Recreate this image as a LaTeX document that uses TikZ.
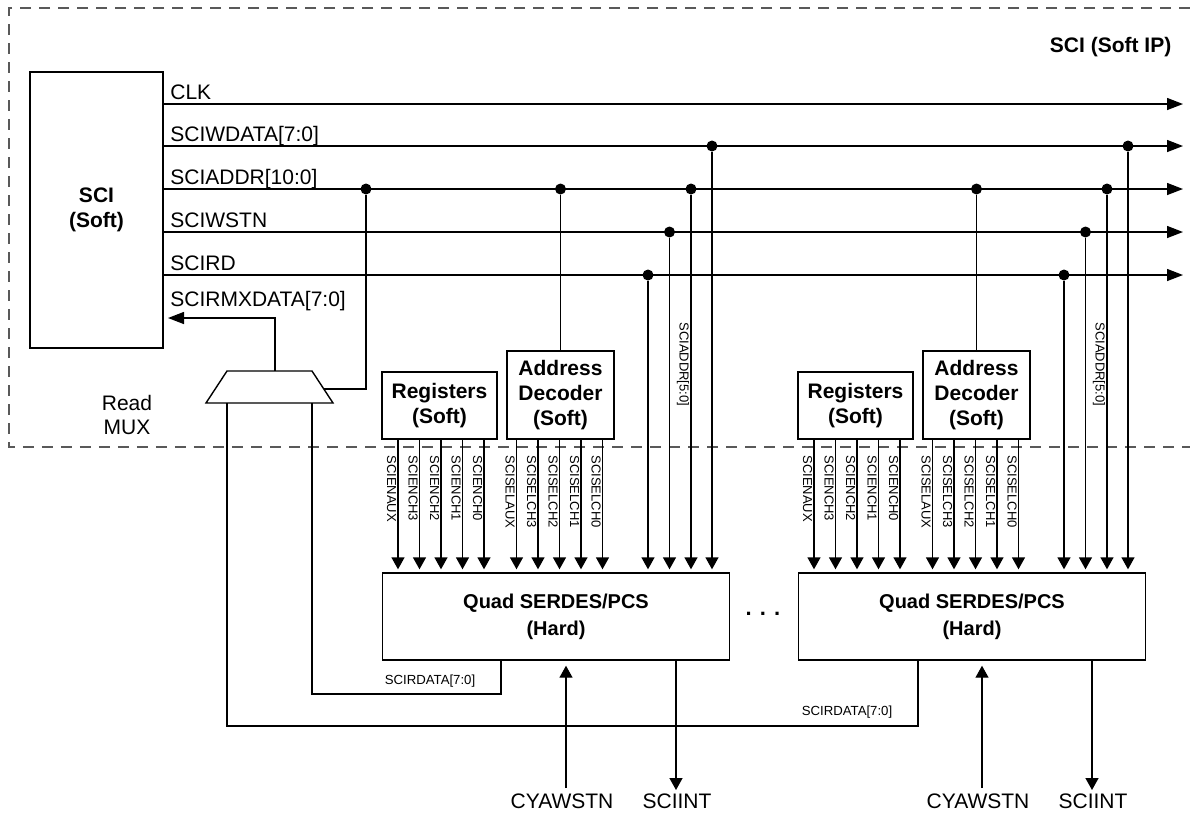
\documentclass[tikz,border=0pt]{standalone}
\usepackage{fontspec}
\setmainfont{Liberation Sans}
\usetikzlibrary{arrows.meta}
\usetikzlibrary{positioning}

\tikzset{
  sig/.style={line width=0.7pt},
  bus/.style={sig, -{Triangle[length=8pt,width=6pt]}},
  tap/.style={sig, -{Triangle[length=6pt,width=6.5pt]}},
  blk/.style={draw, line width=0.7pt, align=center, inner sep=0pt,
    font=\bfseries\fontsize{10.5}{12.5}\selectfont},
  lbl/.style={inner sep=0pt, align=center, font=\fontsize{10.5}{12}\selectfont},
  vlbl/.style={inner sep=0pt, rotate=-90, font=\fontsize{6.5}{7}\selectfont},
  small/.style={inner sep=0pt, font=\fontsize{6.6}{7}\selectfont},
  jdot/.style={circle, fill, inner sep=0pt, minimum size=5.5pt},
  softip/.style={draw=black!65, line width=0.65pt, dash pattern=on 5.5pt off 4pt},
}

\begin{document}
\begin{tikzpicture}[x=0.5pt, y=-0.5pt]
\useasboundingbox (0,0) rectangle (1190,821);

% --- SOFT IP REGION ---
\draw[softip] (1190,8) -- (9,8) -- (9,447) -- (1190,447);
\node[blk, draw=none, anchor=east] (title) at (1172,47) {SCI (Soft IP)};

% --- SCI BLOCK AND BUS ---
\node[blk, minimum width=66.5pt, minimum height=138pt] (sci) at (96.5,210) {SCI\\(Soft)};

\foreach \name/\y/\txt in {clk/104/CLK, wdata/146/SCIWDATA[7:0], addr/189/SCIADDR[10:0],
    wstn/232/SCIWSTN, rd/275/SCIRD} {
  \coordinate (\name) at (1183,\y);
  \draw[bus] (sci.east |- \name) -- (\name);
  \node[lbl, anchor=base west] (l\name) at (170,\y-5) {\txt};
}

% --- READ MUX ---
\draw[line width=0.7pt] (227,371) -- (312,371) -- (333,403) -- (206,403) -- cycle;
\coordinate (muxout) at (275,371);
\coordinate (muxin) at (324,389);
\coordinate (muxA) at (227,403);
\coordinate (muxB) at (312,403);
\node[lbl] (muxlbl) at (127,415) {Read\\MUX};

\coordinate (rmx) at (168,318);
\draw[bus] (muxout) |- (rmx);
\node[lbl, anchor=base west] (lrmx) at (170,306) {SCIRMXDATA[7:0]};

\node[jdot] (dm) at (366,189) {};
\draw[sig] (muxin) -| (dm);

% --- QUADS ---
\foreach \q/\sh in {1/0, 2/416} {
\begin{scope}[shift={(\sh,0)}]
  \node[blk, minimum width=173.5pt, minimum height=43.5pt,
    font=\bfseries\fontsize{10}{13.5}\selectfont] (quad\q) at (556,616.5) {Quad SERDES/PCS\\(Hard)};
  \node[blk, minimum width=57.5pt, minimum height=33.5pt] (reg\q) at (439.5,405.5) {Registers\\(Soft)};
  \node[blk, minimum width=53.5pt, minimum height=44pt] (dec\q) at (560.5,395) {Address\\Decoder\\(Soft)};

  % decoder address input
  \node[jdot] (da\q) at (560.5,189) {};
  \draw[sig] (dec\q.north) -- (da\q);

  % enables and selects
  \foreach \s [count=\i from 0] in {SCIENAUX, SCIENCH3, SCIENCH2, SCIENCH1, SCIENCH0} {
    \pgfmathsetmacro\xx{398+21.5*\i}
    \draw[tap, shorten >=1.5pt] (reg\q.south -| \xx,0) -- (quad\q.north -| \xx,0);
    \node[vlbl, anchor=north west] (le\q\i) at (\xx-1.5,455) {\s};
  }
  \foreach \s [count=\i from 0] in {SCISELAUX, SCISELCH3, SCISELCH2, SCISELCH1, SCISELCH0} {
    \pgfmathsetmacro\xx{516.5+21.5*\i}
    \draw[tap, shorten >=1.5pt] (dec\q.south -| \xx,0) -- (quad\q.north -| \xx,0);
    \node[vlbl, anchor=north west] (ls\q\i) at (\xx-1.5,455) {\s};
  }

  % bus taps
  \foreach \xx/\yy/\nm in {648/275/rd, 669.5/232/ws, 691/189/ad, 712/146/wd} {
    \node[jdot] (t\nm\q) at (\xx,\yy) {};
    \draw[tap, shorten >=1.5pt] (t\nm\q) -- (quad\q.north -| t\nm\q);
  }
  \node[vlbl, anchor=north west] (la\q) at (689.5,322) {SCIADDR[5:0]};

  % pins below
  \coordinate (cy\q) at (566,788);
  \draw[tap, shorten >=2.5pt] (cy\q) -- (quad\q.south -| cy\q);
  \node[lbl, anchor=base] (lcy\q) at (562,808) {CYAWSTN};
  \coordinate (ir\q) at (676,790);
  \draw[tap] (quad\q.south -| ir\q) -- (ir\q);
  \node[lbl, anchor=base] (lir\q) at (677,808) {SCIINT};
\end{scope}
}

\node[lbl, font=\bfseries\fontsize{11}{12}\selectfont] (more) at (763,614) {. . .};

% --- READ DATA RETURN ---
\draw[sig] (quad1.south -| 501,0) |- (muxB |- 0,694) -- (muxB);
\node[small] (lrd1) at (430,681) {SCIRDATA[7:0]};
\draw[sig] (quad2.south -| 918,0) |- (muxA |- 0,726) -- (muxA);
\node[small] (lrd2) at (847,712) {SCIRDATA[7:0]};
\end{tikzpicture}
\end{document}
